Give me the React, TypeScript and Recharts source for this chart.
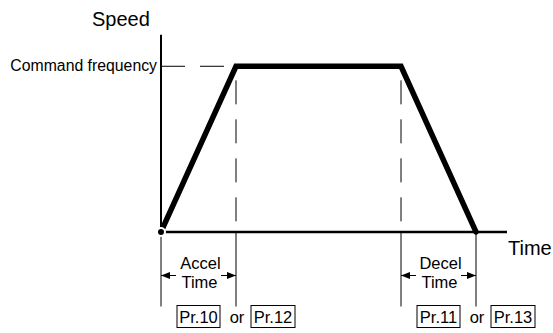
import React from "react";
import { LineChart, Line, XAxis, YAxis, ReferenceLine } from "recharts";

// trapezoid speed profile (time in px-like units, speed in % of command frequency)
const timePoints = [0, 75, 240, 315];
const speedPoints = [0, 100, 100, 0];
const axisEnd = 346;
const speedTop = 119;
const belowAxis = -45;
const dimLevel = -26.3;
const dashStart = 91.5;

const accelSpan = [0, 75];
const decelSpan = [240, 315];
const accelText = ["Accel", "Time"];
const decelText = ["Decel", "Time"];
const accelParams = ["Pr.10", "Pr.12"];
const decelParams = ["Pr.11", "Pr.13"];

const profile = timePoints.map((t, i) => ({ t, speed: speedPoints[i] }));

const FONT = "'Liberation Sans', Arial, sans-serif";
const INK = "#000";

function yAxisShape(p: any) {
  const top = Math.min(p.y1, p.y2);
  return (
    <g>
      <line x1={p.x1} y1={p.y1} x2={p.x2} y2={p.y2} stroke={INK} strokeWidth={2} />
      <text x={p.x1 - 69} y={top - 8.5} fontSize={20} fontFamily={FONT} fill={INK}>
        Speed
      </text>
    </g>
  );
}

function xAxisShape(p: any) {
  const right = Math.max(p.x1, p.x2);
  return (
    <g>
      <line x1={p.x1} y1={p.y1} x2={p.x2} y2={p.y2} stroke={INK} strokeWidth={2.5} />
      <text x={right + 1} y={p.y1 + 23} fontSize={20} fontFamily={FONT} fill={INK}>
        Time
      </text>
    </g>
  );
}

function commandShape(p: any) {
  const left = Math.min(p.x1, p.x2);
  return (
    <g>
      <line x1={p.x1} y1={p.y1} x2={p.x2} y2={p.y2} stroke={INK} strokeWidth={1} strokeDasharray="24 15" />
      <text x={left - 4} y={p.y1 + 4.7} fontSize={15.8} fontFamily={FONT} fill={INK} textAnchor="end">
        Command frequency
      </text>
    </g>
  );
}

function dimShape(lines: string[], params: string[]) {
  return (p: any) => {
    const a = Math.min(p.x1, p.x2);
    const b = Math.max(p.x1, p.x2);
    const y = p.y1;
    const mid = (a + b) / 2 + 2;
    const boxY = y + 30;
    return (
      <g fontFamily={FONT} fill={INK}>
        <line x1={a} y1={y} x2={a + 15} y2={y} stroke={INK} strokeWidth={1} />
        <polygon points={`${a},${y} ${a + 9},${y - 3.5} ${a + 9},${y + 3.5}`} fill={INK} />
        <line x1={b - 15} y1={y} x2={b} y2={y} stroke={INK} strokeWidth={1} />
        <polygon points={`${b},${y} ${b - 9},${y - 3.5} ${b - 9},${y + 3.5}`} fill={INK} />
        <text x={mid} y={y - 6.5} fontSize={16.5} textAnchor="middle">{lines[0]}</text>
        <text x={mid - 1} y={y + 12.5} fontSize={16.5} textAnchor="middle">{lines[1]}</text>
        <rect x={a + 16} y={boxY} width={43} height={22} fill="none" stroke={INK} strokeWidth={1} />
        <text x={a + 37.5} y={boxY + 17} fontSize={16.5} textAnchor="middle">{params[0]}</text>
        <text x={a + 76} y={boxY + 17} fontSize={16.5} textAnchor="middle">or</text>
        <rect x={a + 90} y={boxY} width={44} height={22} fill="none" stroke={INK} strokeWidth={1} />
        <text x={a + 112} y={boxY + 17} fontSize={16.5} textAnchor="middle">{params[1]}</text>
      </g>
    );
  };
}

export default function App() {
  return (
    <div style={{ position: "absolute", left: 0, top: 0, width: 553, height: 333, background: "#fff" }}>
      <LineChart width={553} height={333} data={profile} margin={{ top: 0, right: 0, bottom: 0, left: 0 }}>
        <XAxis type="number" dataKey="t" domain={[-161, 392]} allowDataOverflow hide />
        <YAxis type="number" domain={[-61, 140]} allowDataOverflow hide />

        {/* axes */}
        <ReferenceLine segment={[{ x: 0, y: 0 }, { x: 0, y: speedTop }]} ifOverflow="visible" shape={yAxisShape} />
        <ReferenceLine segment={[{ x: 0, y: 0 }, { x: axisEnd, y: 0 }]} ifOverflow="visible" shape={xAxisShape} />

        {/* command frequency guide and phase boundaries */}
        <ReferenceLine segment={[{ x: 0, y: 100 }, { x: timePoints[1], y: 100 }]} ifOverflow="visible" shape={commandShape} />
        {[timePoints[1], timePoints[2]].map((t) => (
          <ReferenceLine
            key={`d${t}`}
            segment={[{ x: t, y: dashStart }, { x: t, y: 0 }]}
            ifOverflow="visible"
            stroke={INK}
            strokeWidth={1}
            strokeDasharray="24 15"
          />
        ))}
        {timePoints.map((t) => (
          <ReferenceLine
            key={`e${t}`}
            segment={[{ x: t, y: 0 }, { x: t, y: belowAxis }]}
            ifOverflow="visible"
            stroke={INK}
            strokeWidth={1}
          />
        ))}

        {/* accel / decel dimensions */}
        <ReferenceLine
          segment={[{ x: accelSpan[0], y: dimLevel }, { x: accelSpan[1], y: dimLevel }]}
          ifOverflow="visible"
          shape={dimShape(accelText, accelParams)}
        />
        <ReferenceLine
          segment={[{ x: decelSpan[0], y: dimLevel }, { x: decelSpan[1], y: dimLevel }]}
          ifOverflow="visible"
          shape={dimShape(decelText, decelParams)}
        />

        <Line
          type="linear"
          dataKey="speed"
          stroke={INK}
          strokeWidth={5.5}
          strokeLinecap="round"
          dot={false}
          isAnimationActive={false}
        />
      </LineChart>
    </div>
  );
}
